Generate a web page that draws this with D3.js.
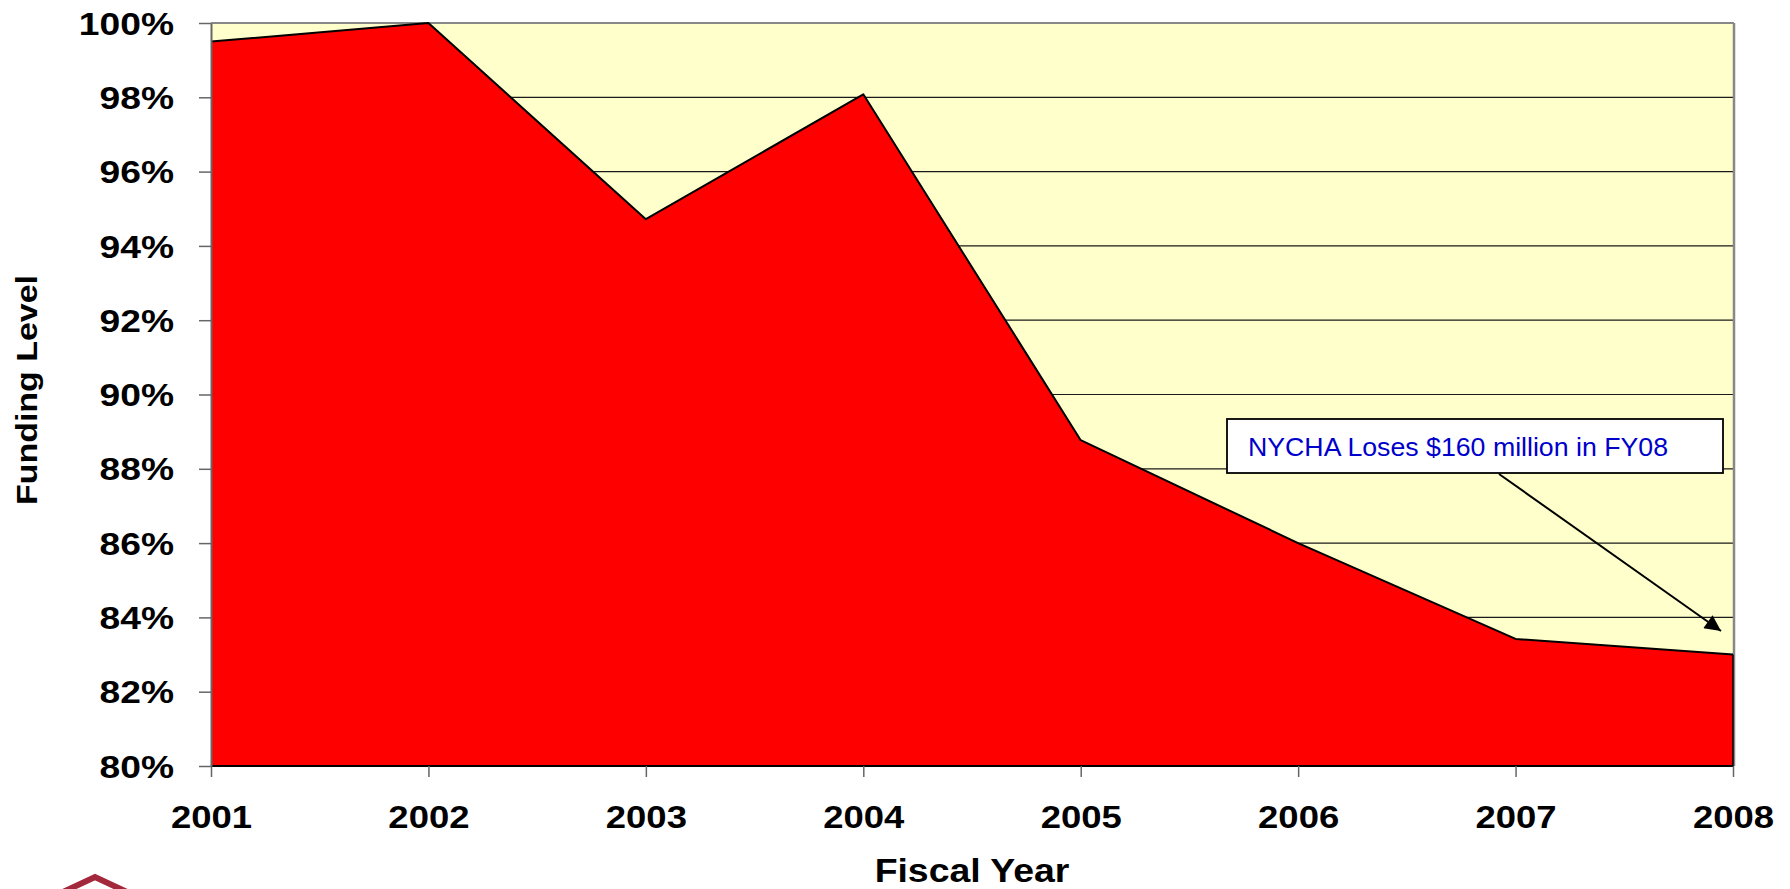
<!DOCTYPE html>
<html>
<head>
<meta charset="utf-8">
<script src="https://cdn.jsdelivr.net/npm/d3@7"></script>
<style>
  body { margin: 0; background: #fff; }
  text { font-family: "Liberation Sans", Arial, sans-serif; }
</style>
</head>
<body>
<div id="chart"></div>
<script>
let width = 1790;
let height = 889;

// data
let years = [2001, 2002, 2003, 2004, 2005, 2006, 2007, 2008];
let funding = [99.5, 100, 94.72, 98.08, 88.77, 86.0, 83.42, 83.0];
let yTicks = [80, 82, 84, 86, 88, 90, 92, 94, 96, 98, 100];
let note = "NYCHA Loses $160 million in FY08";

let plotLeft = 211, plotRight = 1733, plotTop = 23, plotBottom = 766;

let svg = d3.select("#chart").append("svg")
	.attr("width", width)
	.attr("height", height);

let x = d3.scaleLinear().domain([2001, 2008]).range([plotLeft, plotRight]);
let y = d3.scaleLinear().domain([80, 100]).range([plotBottom, plotTop]);

let rows = years.map(function(yr, i){ return { year: yr, value: funding[i] }; });

// plot background
svg.append("rect")
	.attr("x", plotLeft).attr("y", plotTop)
	.attr("width", plotRight - plotLeft).attr("height", plotBottom - plotTop)
	.attr("fill", "#ffffcc");

// gridlines
svg.append("g").selectAll("line")
	.data(yTicks.filter(function(t){ return t > 80 && t < 100; }))
	.enter().append("line")
	.attr("x1", plotLeft).attr("x2", plotRight)
	.attr("y1", function(d){ return y(d); })
	.attr("y2", function(d){ return y(d); })
	.attr("stroke", "#1a1a1a")
	.attr("stroke-width", 1.2);

// border top / right
svg.append("line").attr("x1", plotLeft).attr("x2", plotRight + 1).attr("y1", plotTop).attr("y2", plotTop)
	.attr("stroke", "#888").attr("stroke-width", 2);
svg.append("line").attr("x1", plotRight + 1).attr("x2", plotRight + 1).attr("y1", plotTop).attr("y2", plotBottom)
	.attr("stroke", "#888").attr("stroke-width", 2.5);

// the area
let area = d3.area()
	.x(function(d){ return x(d.year); })
	.y0(y(80))
	.y1(function(d){ return y(d.value); });

svg.append("path")
	.datum(rows)
	.attr("d", area)
	.attr("fill", "#ff0000");

let line = d3.line()
	.x(function(d){ return x(d.year); })
	.y(function(d){ return y(d.value); });

svg.append("path")
	.datum(rows)
	.attr("d", line)
	.attr("fill", "none")
	.attr("stroke", "#000")
	.attr("stroke-width", 2)
	.attr("stroke-linejoin", "round");

// right edge of area + baseline
svg.append("line").attr("x1", plotRight).attr("x2", plotRight).attr("y1", y(funding[funding.length - 1])).attr("y2", plotBottom)
	.attr("stroke", "#000").attr("stroke-width", 1.5);
svg.append("line").attr("x1", plotLeft).attr("x2", plotRight).attr("y1", plotBottom).attr("y2", plotBottom)
	.attr("stroke", "#000").attr("stroke-width", 2);

// y axis
let yAxis = svg.append("g")
	.attr("transform", "translate(" + plotLeft + ",0)")
	.call(d3.axisLeft(y).tickValues(yTicks).tickSize(12).tickSizeOuter(0)
		.tickFormat(function(d){ return d + "%"; }));
yAxis.select(".domain").attr("stroke", "#666").attr("stroke-width", 2);
yAxis.selectAll(".tick line").attr("stroke", "#666").attr("stroke-width", 1.5);
yAxis.selectAll(".tick text")
	.attr("x", 0).attr("dy", "0.36em")
	.attr("transform", "translate(-37,0) scale(1.2,1)")
	.attr("text-anchor", "end")
	.style("font-family", "'Liberation Sans', Arial, sans-serif")
	.style("font-size", "31px")
	.style("font-weight", "bold")
	.attr("fill", "#000");

// x axis
let xAxis = svg.append("g")
	.attr("transform", "translate(0," + plotBottom + ")")
	.call(d3.axisBottom(x).tickValues(years).tickSize(11).tickSizeOuter(0)
		.tickFormat(d3.format("d")));
xAxis.select(".domain").remove();
xAxis.selectAll(".tick line").attr("stroke", "#666").attr("stroke-width", 1.5);
xAxis.selectAll(".tick text")
	.attr("y", 0).attr("dy", 0)
	.attr("transform", "translate(0,62) scale(1.14,1)")
	.style("font-family", "'Liberation Sans', Arial, sans-serif")
	.style("font-size", "32px")
	.style("font-weight", "bold")
	.attr("fill", "#000");

// axis titles
svg.append("text")
	.attr("transform", "translate(" + ((plotLeft + plotRight) / 2) + ",882) scale(1.1,1)")
	.attr("text-anchor", "middle")
	.style("font-size", "34px")
	.style("font-weight", "bold")
	.text("Fiscal Year");

svg.append("text")
	.attr("transform", "translate(37,390) rotate(-90)")
	.attr("text-anchor", "middle")
	.attr("textLength", 230)
	.attr("lengthAdjust", "spacingAndGlyphs")
	.style("font-size", "29px")
	.style("font-weight", "bold")
	.text("Funding Level");

// annotation
let defs = svg.append("defs");
defs.append("marker")
	.attr("id", "arrow")
	.attr("viewBox", "0 0 10 10")
	.attr("refX", 10).attr("refY", 5)
	.attr("markerWidth", 9).attr("markerHeight", 8)
	.attr("markerUnits", "strokeWidth")
	.attr("orient", "auto")
	.append("path")
	.attr("d", "M0,0 L10,5 L0,10 Z")
	.attr("fill", "#000");

svg.append("line")
	.attr("x1", 1499).attr("y1", 474)
	.attr("x2", 1721).attr("y2", 631)
	.attr("stroke", "#000")
	.attr("stroke-width", 2)
	.attr("marker-end", "url(#arrow)");

svg.append("rect")
	.attr("x", 1227).attr("y", 419)
	.attr("width", 496).attr("height", 54)
	.attr("fill", "#fff")
	.attr("stroke", "#000")
	.attr("stroke-width", 1.8);

svg.append("text")
	.attr("x", 1248).attr("y", 456)
	.attr("textLength", 420)
	.attr("lengthAdjust", "spacingAndGlyphs")
	.style("font-size", "26px")
	.attr("fill", "#0000cc")
	.text(note);

// logo corner (partly cut off)
svg.append("path")
	.attr("d", "M63,892 L95,877 L127,892")
	.attr("fill", "none")
	.attr("stroke", "#a3283c")
	.attr("stroke-width", 6);
</script>
</body>
</html>
